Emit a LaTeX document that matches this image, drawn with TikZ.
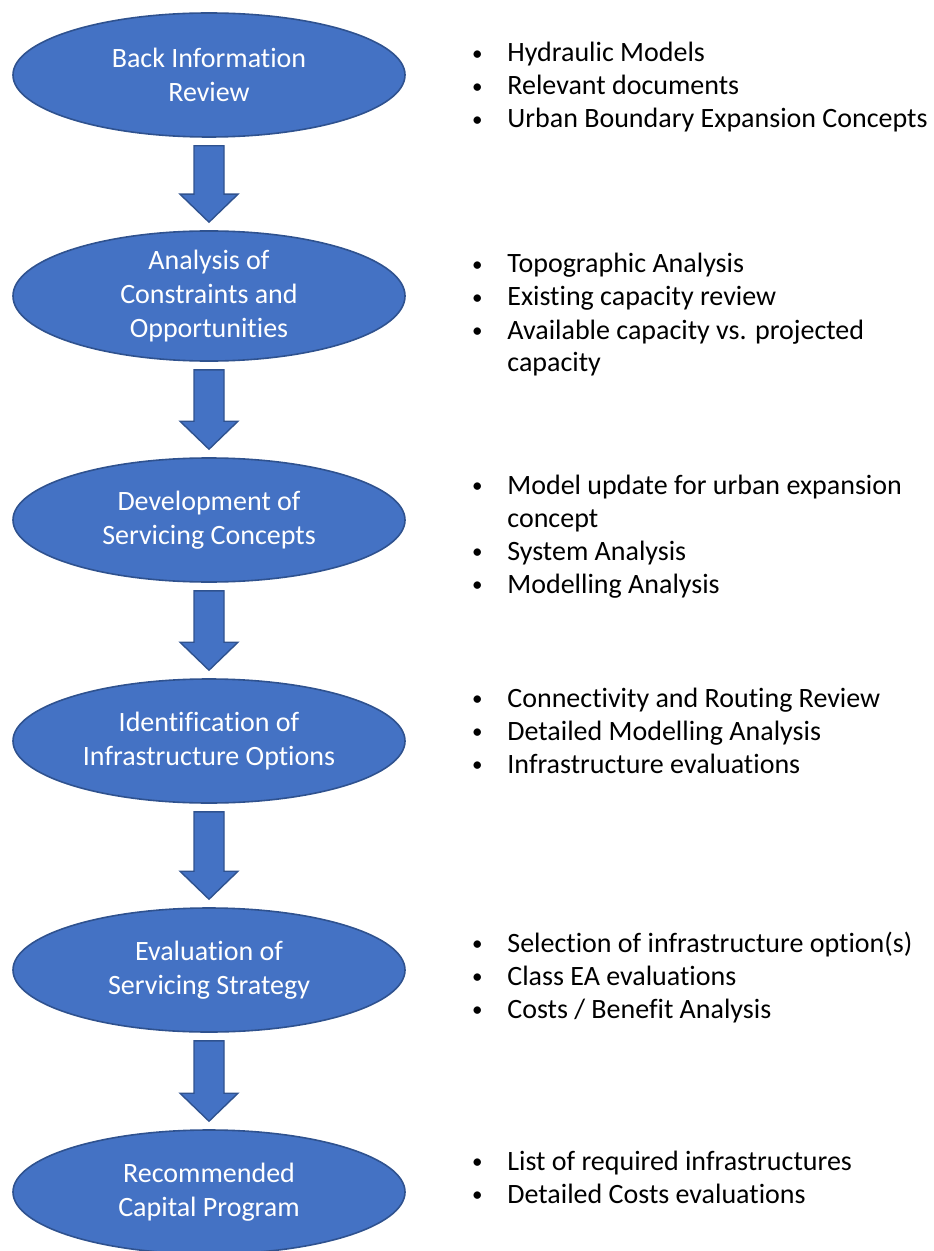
\documentclass[tikz,border=0pt]{standalone}
\usepackage{fontspec}
\setmainfont{Carlito}[Ligatures=CommonOff]
\usetikzlibrary{calc,shapes.geometric}

\definecolor{stageblue}{HTML}{4472C4}
\definecolor{stageedge}{HTML}{2F528F}

\newcommand{\bul}{\makebox[10pt][c]{\raisebox{0.6pt}{\fontsize{10.5pt}{10.5pt}\selectfont\textbullet}}\hspace{10pt}}
\newcommand{\itemfont}{\fontsize{14pt}{16.5pt}\selectfont}
\newcommand{\stagefont}{\fontsize{14pt}{17pt}\selectfont}

% block arrow between two stages
\newcommand{\stagearrow}[2]{%
  \coordinate (#1top) at ($(#1.south)+(0,8)$);
  \coordinate (#1tip) at ($(#2.north)+(0,-8)$);
  \coordinate (#1head) at ($(#1tip)+(0,-28)$);
  \draw [blockarrow] ($(#1top)+(-15,0)$) -- ($(#1head)+(-15,0)$) -- ($(#1head)+(-29,0)$)
    -- (#1tip) -- ($(#1head)+(29,0)$) -- ($(#1head)+(15,0)$) -- ($(#1top)+(15,0)$) -- cycle;
}

\begin{document}
\begin{tikzpicture}[x=0.5pt,y=-0.5pt,
    stage/.style={ellipse,fill=stageblue,draw=stageedge,line width=0.8pt,
      minimum width=196pt,minimum height=62pt,inner sep=0pt,
      text=white,font=\stagefont,align=center},
    blockarrow/.style={fill=stageblue,draw=stageedge,line width=0.7pt,line join=miter},
    items/.style={font=\itemfont,anchor=base west,inner sep=0pt,text=black}]
  \useasboundingbox (0,0) rectangle (933,1251);

  % stages
  \node [stage] (s1) at (209,75) {Back Information\\Review};
  \node [stage] (s2) at (209,296) {Analysis of\\Constraints and\\Opportunities};
  \node [stage] (s3) at (209,520) {Development of\\Servicing Concepts};
  \node [stage] (s4) at (209,741) {Identification of\\Infrastructure Options};
  \node [stage] (s5) at (209,970) {Evaluation of\\Servicing Strategy};
  \node [stage] (s6) at (209,1192) {Recommended\\Capital Program};

  % arrows
  \stagearrow{s1}{s2}
  \stagearrow{s2}{s3}
  \stagearrow{s3}{s4}
  \stagearrow{s4}{s5}
  \stagearrow{s5}{s6}

  % task lists
  \node [items] (l1) at (467,62) {\begin{tabular}[t]{@{}l@{}}
    \bul Hydraulic Models\\
    \bul Relevant documents\\
    \bul Urban Boundary Expansion Concepts\end{tabular}};
  \node [items] (l2) at (467,273) {\begin{tabular}[t]{@{}l@{}}
    \bul Topographic Analysis\\
    \bul Existing capacity review\\
    \bul Available capacity vs. projected\\
    \hspace{20pt}capacity\end{tabular}};
  \node [items] (l3) at (467,494) {\begin{tabular}[t]{@{}l@{}}
    \bul Model update for urban expansion\\
    \hspace{20pt}concept\\
    \bul System Analysis\\
    \bul Modelling Analysis\end{tabular}};
  \node [items] (l4) at (467,707) {\begin{tabular}[t]{@{}l@{}}
    \bul Connectivity and Routing Review\\
    \bul Detailed Modelling Analysis\\
    \bul Infrastructure evaluations\end{tabular}};
  \node [items] (l5) at (467,952) {\begin{tabular}[t]{@{}l@{}}
    \bul Selection of infrastructure option(s)\\
    \bul Class EA evaluations\\
    \bul Costs / Benefit Analysis\end{tabular}};
  \node [items] (l6) at (467,1170) {\begin{tabular}[t]{@{}l@{}}
    \bul List of required infrastructures\\
    \bul Detailed Costs evaluations\end{tabular}};
\end{tikzpicture}
\end{document}
